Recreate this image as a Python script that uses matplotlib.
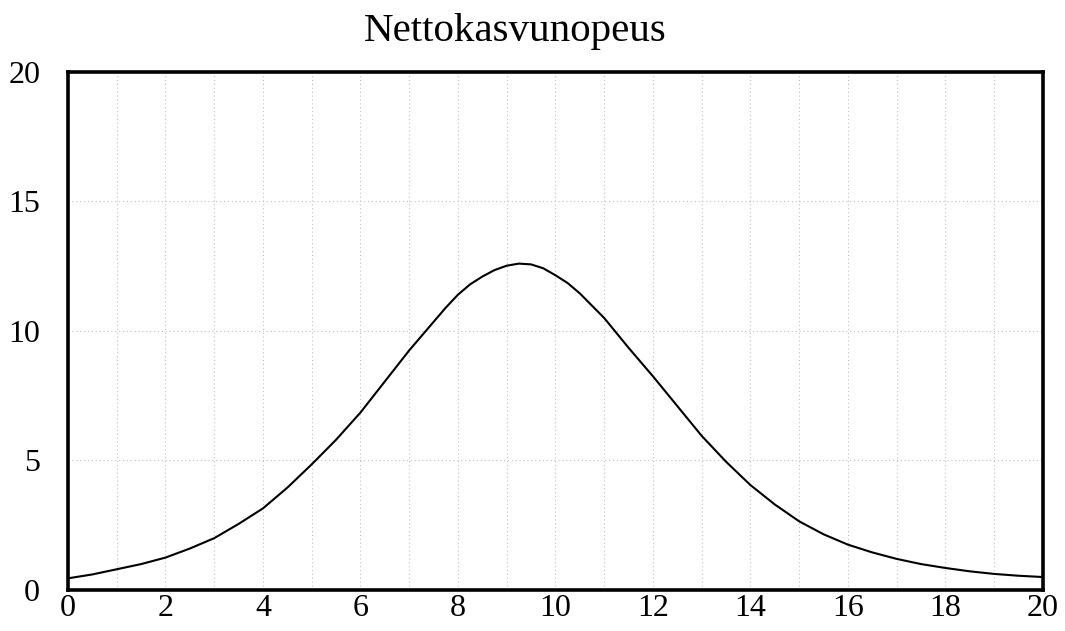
import numpy as np
import matplotlib
matplotlib.use("Agg")
import matplotlib.pyplot as plt
from matplotlib.ticker import MultipleLocator

# values
x_vals = [0, 0.5, 1, 1.5, 2, 2.5, 3, 3.5, 4, 4.5, 5, 5.5, 6, 6.5, 7, 7.5, 7.75, 8, 8.25, 8.5,
          8.75, 9, 9.25, 9.5, 9.75, 10, 10.25, 10.5, 11, 11.5, 12, 12.5, 13, 13.5, 14, 14.5,
          15, 15.5, 16, 16.5, 17, 17.5, 18, 18.5, 19, 19.5, 20]
y_vals = [0.45, 0.6, 0.8, 1.0, 1.25, 1.6, 2.0, 2.55, 3.15, 3.95, 4.85, 5.8, 6.85, 8.05, 9.25, 10.35,
          10.9, 11.4, 11.8, 12.1, 12.35, 12.52, 12.6, 12.57, 12.42, 12.15, 11.85, 11.45, 10.5,
          9.35, 8.25, 7.1, 5.95, 4.95, 4.05, 3.3, 2.65, 2.15, 1.75, 1.45, 1.2, 1.0, 0.85, 0.72,
          0.62, 0.55, 0.5]

title = "Nettokasvunopeus"
x_ticks = [0, 2, 4, 6, 8, 10, 12, 14, 16, 18, 20]
y_ticks = [0, 5, 10, 15, 20]

plt.rcParams['font.family'] = ['Liberation Serif', 'DejaVu Serif']

fig = plt.figure(figsize=(10.65, 6.31), dpi=100)
ax = fig.add_axes([0.0638, 0.065, 0.9155, 0.821])

ax.plot(x_vals, y_vals, color="black", linewidth=1.5)

ax.set_xlim(0, 20)
ax.set_ylim(0, 20)
ax.set_xticks(x_ticks)
ax.set_yticks(y_ticks)
ax.xaxis.set_minor_locator(MultipleLocator(1))

ax.grid(which="both", axis="x", color="#c0c0c0", linestyle=(0, (1, 2.5)), linewidth=0.8)
ax.grid(which="major", axis="y", color="#c0c0c0", linestyle=(0, (1, 2.5)), linewidth=0.8)

ax.tick_params(which="both", length=0, labelsize=23)
ax.tick_params(axis="x", pad=3)
ax.tick_params(axis="y", pad=20)

for side in ["left", "bottom", "top", "right"]:
    ax.spines[side].set_linewidth(2.6)
    ax.spines[side].set_color("black")

fig.text(0.4836, 0.95, title, ha="center", va="center", fontsize=29.5)

fig.savefig("out.png", dpi=100)
